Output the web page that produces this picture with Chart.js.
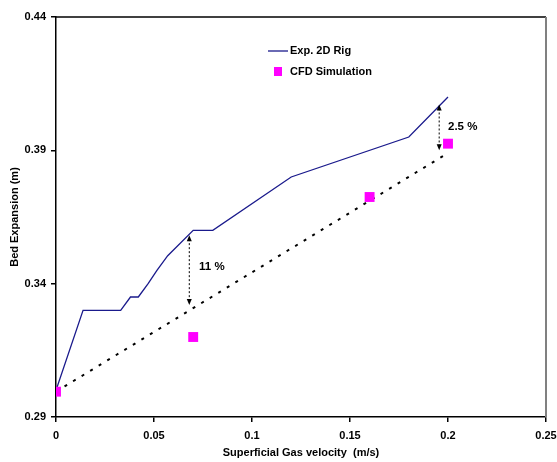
<!DOCTYPE html>
<html>
<head>
<meta charset="utf-8">
<script src="https://cdn.jsdelivr.net/npm/chart.js@4.4.1/dist/chart.umd.min.js"></script>
<style>
  html, body { margin: 0; padding: 0; background: #fff; }
  #wrap { width: 557px; height: 462px; }
</style>
</head>
<body>
<div id="wrap"><canvas id="grafico" width="557" height="462"></canvas></div>
<script>
// dados experimentais (rig 2D)
var velocidade = [0, 0.0138, 0.033, 0.038, 0.042, 0.047, 0.0515, 0.057, 0.070, 0.080, 0.120, 0.180, 0.200];
var expansao = [0.300, 0.330, 0.330, 0.335, 0.335, 0.340, 0.345, 0.3505, 0.360, 0.360, 0.380, 0.395, 0.410];

// simulação CFD
var velocidadeCFD = [0, 0.070, 0.160, 0.200];
var expansaoCFD = [0.2995, 0.320, 0.3725, 0.3925];

// linha tracejada (tendência)
var tendenciaX = [0, 0.200];
var tendenciaY = [0.2995, 0.389];

// setas de diferença
var setaX = [0.068, 0.1955];
var setaTopo = [0.3582, 0.4072];
var setaBase = [0.3320, 0.3900];
var rotulos = ['11 %', '2.5 %'];
var rotuloX = [0.073, 0.2];
var rotuloY = [0.3462, 0.399];

var ticksX = [0, 0.05, 0.1, 0.15, 0.2, 0.25];
var ticksY = [0.29, 0.34, 0.39, 0.44];

function pontos(xs, ys) {
    var out = [];
    for (var i = 0; i < xs.length; i++) out.push({ x: xs[i], y: ys[i] });
    return out;
}

var fonte = { family: 'Liberation Sans, Arial, sans-serif', size: 11, weight: 'bold' };

function desenhaSeta(ctx, x, y1, y2) {
    ctx.save();
    ctx.strokeStyle = '#000';
    ctx.fillStyle = '#000';
    ctx.lineWidth = 1;
    ctx.setLineDash([2, 2]);
    ctx.beginPath();
    ctx.moveTo(x, y1 + 4);
    ctx.lineTo(x, y2 - 4);
    ctx.stroke();
    ctx.setLineDash([]);
    ctx.beginPath();
    ctx.moveTo(x, y1);
    ctx.lineTo(x - 2.5, y1 + 6);
    ctx.lineTo(x + 2.5, y1 + 6);
    ctx.closePath();
    ctx.fill();
    ctx.beginPath();
    ctx.moveTo(x, y2);
    ctx.lineTo(x - 2.5, y2 - 6);
    ctx.lineTo(x + 2.5, y2 - 6);
    ctx.closePath();
    ctx.fill();
    ctx.restore();
}

var extras = {
    id: 'extras',
    afterDatasetsDraw: function(chart) {
        var ctx = chart.ctx;
        var a = chart.chartArea;
        var sx = chart.scales.x, sy = chart.scales.y;

        // moldura (topo e direita)
        ctx.save();
        ctx.strokeStyle = '#000';
        ctx.lineWidth = 1.5;
        ctx.beginPath();
        ctx.moveTo(a.left, a.top);
        ctx.lineTo(a.right, a.top);
        ctx.stroke();
        ctx.strokeStyle = '#808080';
        ctx.lineWidth = 2;
        ctx.beginPath();
        ctx.moveTo(a.right, a.top);
        ctx.lineTo(a.right, a.bottom);
        ctx.stroke();
        ctx.restore();

        // setas e percentuais
        for (var i = 0; i < setaX.length; i++) {
            desenhaSeta(ctx, sx.getPixelForValue(setaX[i]), sy.getPixelForValue(setaTopo[i]), sy.getPixelForValue(setaBase[i]));
            ctx.save();
            ctx.font = 'bold 11.5px Liberation Sans, Arial, sans-serif';
            ctx.fillStyle = '#000';
            ctx.textBaseline = 'middle';
            ctx.fillText(rotulos[i], sx.getPixelForValue(rotuloX[i]), sy.getPixelForValue(rotuloY[i]));
            ctx.restore();
        }

        // legenda
        var ds = chart.data.datasets;
        var lx = 268, ly = 51;
        ctx.save();
        ctx.strokeStyle = ds[0].borderColor;
        ctx.lineWidth = 1.3;
        ctx.beginPath();
        ctx.moveTo(lx, ly);
        ctx.lineTo(lx + 20, ly);
        ctx.stroke();
        ctx.fillStyle = ds[1].backgroundColor;
        ctx.fillRect(lx + 6, ly + 16, 8, 9);
        ctx.fillStyle = '#000';
        ctx.font = 'bold 11px Liberation Sans, Arial, sans-serif';
        ctx.textBaseline = 'middle';
        ctx.fillText(ds[0].label, lx + 22, ly);
        ctx.fillText(ds[1].label, lx + 22, ly + 21);
        ctx.restore();
    }
};

new Chart(document.getElementById('grafico'), {
    type: 'scatter',
    data: {
        datasets: [{
            label: 'Exp. 2D Rig',
            type: 'line',
            data: pontos(velocidade, expansao),
            borderColor: '#1a1a8c',
            borderWidth: 1.3,
            pointRadius: 0,
            tension: 0,
            fill: false,
            order: 3
        }, {
            label: 'CFD Simulation',
            data: pontos(velocidadeCFD, expansaoCFD),
            backgroundColor: '#ff00ff',
            borderColor: '#ff00ff',
            pointStyle: 'rect',
            pointRadius: 7,
            borderWidth: 0,
            order: 1
        }, {
            label: 'tendencia',
            type: 'line',
            data: pontos(tendenciaX, tendenciaY),
            borderColor: '#000',
            borderWidth: 2,
            borderDash: [3, 7],
            pointRadius: 0,
            fill: false,
            order: 2
        }]
    },
    options: {
        responsive: false,
        animation: false,
        layout: { padding: { top: 17, right: 11, left: 0, bottom: 0 } },
        plugins: {
            legend: { display: false },
            tooltip: { enabled: false }
        },
        scales: {
            x: {
                type: 'linear',
                min: 0,
                max: 0.25,
                afterBuildTicks: function(s) { s.ticks = ticksX.map(function(v) { return { value: v }; }); },
                afterFit: function(s) {
                    s.height = 45;
                    s.paddingLeft = 0;
                    s.paddingRight = 0;
                },
                ticks: {
                    color: '#000',
                    font: fonte,
                    padding: 7,
                    maxRotation: 0,
                    callback: function(v) { return String(v); }
                },
                grid: { drawOnChartArea: false, tickLength: 5, color: '#000', lineWidth: 1.5 },
                border: { color: '#000', width: 1.5 },
                title: {
                    display: true,
                    text: 'Superficial Gas velocity  (m/s)',
                    color: '#000',
                    font: fonte,
                    padding: { top: 2, bottom: 2 }
                }
            },
            y: {
                type: 'linear',
                min: 0.29,
                max: 0.44,
                afterBuildTicks: function(s) { s.ticks = ticksY.map(function(v) { return { value: v }; }); },
                afterFit: function(s) { s.width = 56; },
                ticks: {
                    color: '#000',
                    font: fonte,
                    padding: 5,
                    callback: function(v) { return v.toFixed(2); }
                },
                grid: { drawOnChartArea: false, tickLength: 5, color: '#000', lineWidth: 1.5 },
                border: { color: '#000', width: 1.5 },
                title: {
                    display: true,
                    text: 'Bed Expansion (m)',
                    color: '#000',
                    font: fonte,
                    padding: { top: 8, bottom: 8 }
                }
            }
        }
    },
    plugins: [extras]
});
</script>
</body>
</html>
